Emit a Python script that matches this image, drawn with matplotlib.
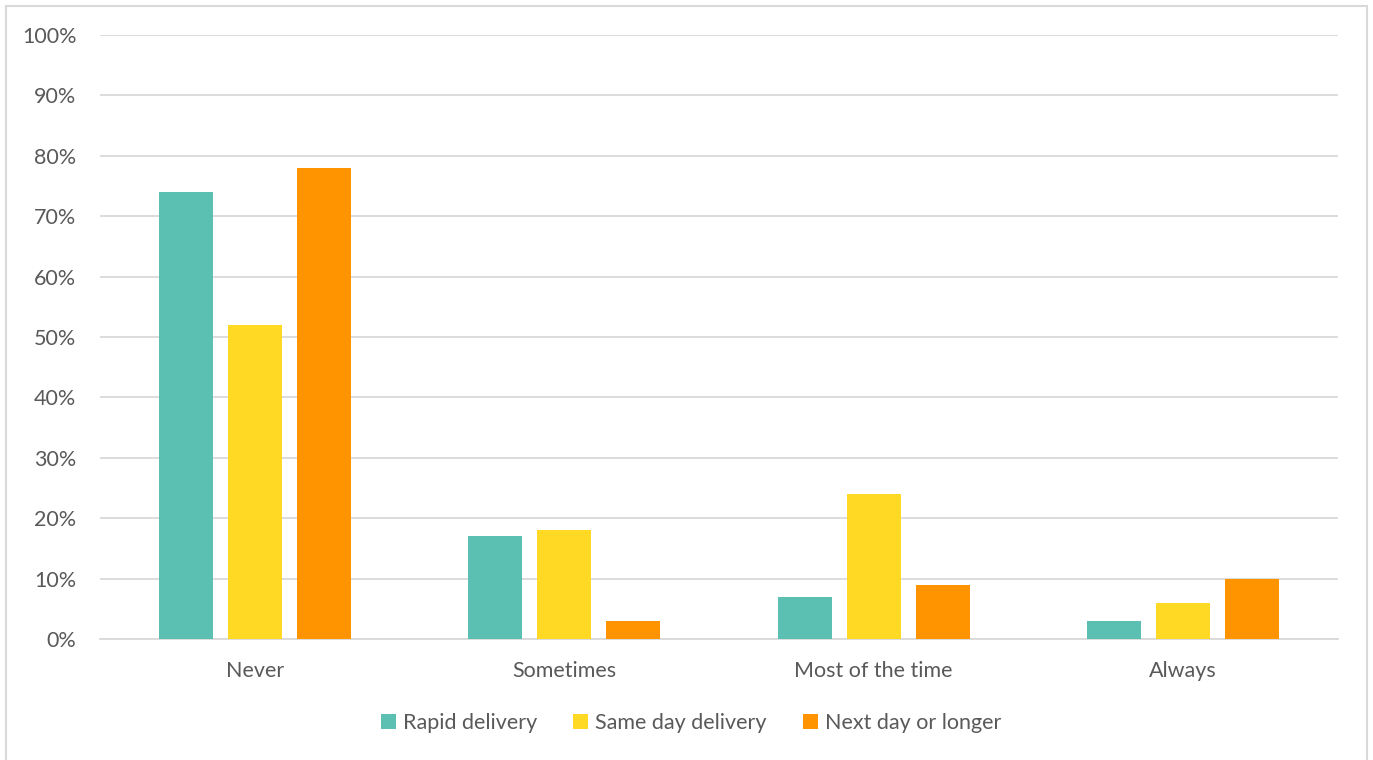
import matplotlib.pyplot as plt
import numpy as np
from matplotlib.patches import Rectangle
from matplotlib.ticker import PercentFormatter

plt.rcParams['font.family'] = ['Lato', 'DejaVu Sans']

# survey answers per delivery type (percent)
categorias = ["Never", "Sometimes", "Most of the time", "Always"]
series = ["Rapid delivery", "Same day delivery", "Next day or longer"]
rapid = [74, 17, 7, 3]
same_day = [52, 18, 24, 6]
next_day = [78, 3, 9, 10]
cores = ["#5BBFB1", "#FFD923", "#FF9300"]
texto = "#595959"

fig = plt.figure(figsize=(13.73, 7.6), dpi=100)
ax = fig.add_axes([100/1373, 1 - 639/760, 1238/1373, 604/760])

x = np.arange(len(categorias))
largura = 0.175
passo = 0.223
for i, (vals, nome) in enumerate(zip([rapid, same_day, next_day], series)):
    ax.bar(x + (i - 1) * passo, vals, largura, color=cores[i], label=nome, zorder=3)

ax.set_xlim(-0.5, len(categorias) - 0.5)
ax.set_ylim(0, 100)
ax.set_yticks(range(0, 101, 10))
ax.yaxis.set_major_formatter(PercentFormatter(decimals=0))
ax.set_xticks(x)
ax.set_xticklabels(categorias)
ax.grid(axis='y', color="#D9D9D9", linewidth=1.3, zorder=0)
for lado in ["top", "right", "left"]:
    ax.spines[lado].set_visible(False)
ax.spines["bottom"].set_color("#D9D9D9")
ax.spines["bottom"].set_linewidth(1.3)
ax.tick_params(axis='both', length=0, labelsize=15.5, labelcolor=texto)
ax.tick_params(axis='y', pad=17)
ax.tick_params(axis='x', pad=16)

leg = fig.legend(loc='center', bbox_to_anchor=(691/1373, 1 - 723/760), ncol=3,
                 frameon=False, fontsize=15.5, handlelength=0.7, handleheight=0.7,
                 handletextpad=0.3, columnspacing=1.7)
for t in leg.get_texts():
    t.set_color(texto)

# moldura cinza em volta do gráfico
fig.patches.append(Rectangle((6/1373, -0.01), 1361/1373, 1 - 6/760 + 0.01,
                             transform=fig.transFigure, fill=False,
                             edgecolor="#D9D9D9", linewidth=1.5))

fig.savefig("out.png", dpi=100)
